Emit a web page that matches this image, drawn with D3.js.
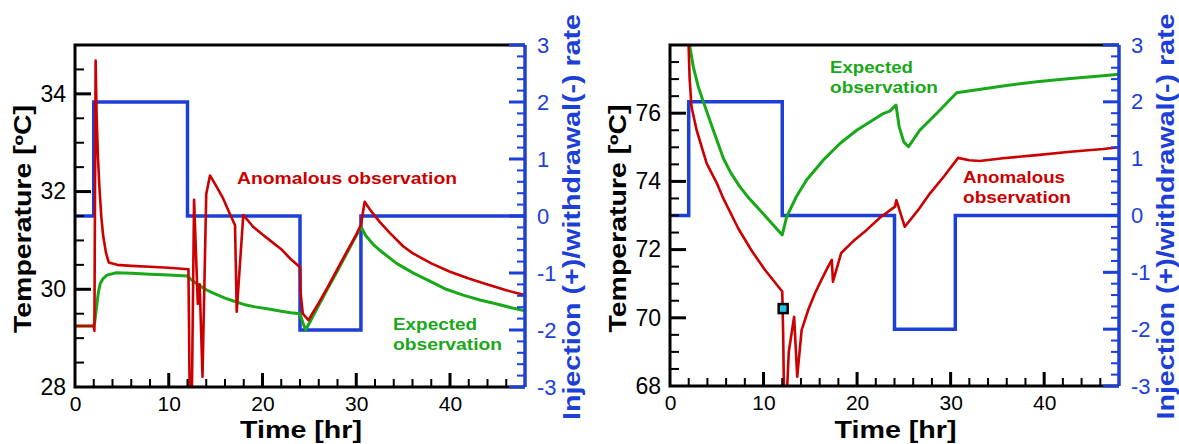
<!DOCTYPE html>
<html>
<head>
<meta charset="utf-8">
<script src="https://cdn.jsdelivr.net/npm/d3@7"></script>
<style>
  body { margin: 0; background: #fff; }
  svg { display: block; }
  text { font-family: "Liberation Sans", Arial, Helvetica, sans-serif; }
</style>
</head>
<body>
<div id="chart"></div>
<script>
// ---- data ----
const timeTicks = [0, 10, 20, 30, 40];
const rateTicks = [-3, -2, -1, 0, 1, 2, 3];
const leftTempTicks = [28, 30, 32, 34];
const rightTempTicks = [68, 70, 72, 74, 76];

// injection (+) / withdrawal (-) rate, step after each time
const rateSteps = [[0, 0], [2, 2], [12, 0], [24, -2], [30.5, 0], [48, 0]];

// left panel: [time hr, temperature C]
const leftExpected = [
  [0, 29.25], [2.0, 29.25], [2.1, 29.32], [2.3, 29.64], [2.5, 29.95], [2.7, 30.12], [3.0, 30.22],
  [3.4, 30.29], [4.4, 30.34], [6, 30.33], [8, 30.31], [10, 30.29], [12, 30.27], [12.5, 30.18],
  [13.15, 30.09], [14, 29.99], [14.75, 29.92], [16, 29.82], [17.07, 29.75], [18, 29.69],
  [19.2, 29.64], [20.5, 29.6], [22, 29.55], [23, 29.52], [24, 29.5], [24.3, 29.32], [24.6, 29.17],
  [25, 29.31], [26, 29.67], [27, 30.03], [28, 30.38], [29, 30.74], [30, 31.1], [30.5, 31.28],
  [31, 31.1], [31.8, 30.92], [32.5, 30.8], [34.3, 30.53], [36.1, 30.33], [37.9, 30.16],
  [39.6, 30.0], [41.4, 29.88], [43.2, 29.78], [45, 29.7], [46.8, 29.61], [48, 29.56]
];
const leftAnomalous = [
  [0, 29.25], [2.0, 29.25], [2.07, 29.15], [2.2, 34.68], [2.3, 33.6], [2.45, 32.7], [2.6, 32.1],
  [2.8, 31.5], [3.0, 31.1], [3.3, 30.75], [3.6, 30.55], [4.5, 30.5], [6, 30.48], [8, 30.46],
  [10, 30.44], [12.1, 30.41], [12.25, 27.5], [12.45, 27.5], [12.7, 31.83], [13.1, 29.7],
  [13.3, 30.1], [13.6, 28.21], [14.0, 31.95], [14.4, 32.33], [15.1, 32.1], [15.8, 31.86],
  [16.5, 31.55], [17.07, 31.31], [17.25, 29.54], [17.95, 31.52], [19, 31.28], [20, 31.12],
  [21, 30.97], [22, 30.82], [23, 30.62], [24, 30.45], [24.08, 29.9], [24.3, 29.5], [24.9, 29.37],
  [26, 29.72], [27, 30.06], [28, 30.42], [29, 30.77], [30, 31.12], [30.5, 31.32], [30.9, 31.79],
  [31.5, 31.62], [32.5, 31.38], [33.6, 31.15], [35, 30.88], [36, 30.74], [38, 30.53],
  [40, 30.36], [42, 30.22], [44, 30.1], [46, 29.98], [48, 29.88]
];

// right panel
const rightExpected = [
  [2.0, 78.3], [2.1, 78.0], [2.49, 77.36], [3.0, 76.8], [3.56, 76.34], [4.63, 75.5], [5.7, 74.68],
  [6.5, 74.25], [7.48, 73.84], [8.4, 73.52], [9.27, 73.26], [10.2, 72.98], [11.04, 72.72],
  [12.0, 72.43], [12.47, 72.96], [13.5, 73.55], [14.6, 74.04], [16.4, 74.63], [18.2, 75.12],
  [19.96, 75.5], [21.7, 75.8], [22.8, 75.99], [23.5, 76.06], [24.16, 76.24], [24.5, 75.6],
  [25, 75.15], [25.5, 75.02], [26.7, 75.5], [28.5, 75.99], [30.65, 76.6], [32.1, 76.66],
  [35.6, 76.8], [39.2, 76.92], [42.8, 77.02], [46.3, 77.1], [48, 77.14]
];
const rightAnomalous = [
  [1.95, 78.3], [2.1, 77.0], [2.3, 76.19], [2.85, 75.5], [3.92, 74.53], [5.0, 73.95], [5.7, 73.5],
  [7.3, 72.62], [8.7, 71.98], [10.16, 71.4], [12.0, 70.77], [12.1, 69.5], [12.2, 67.5],
  [12.45, 67.5], [12.7, 69.0], [13.27, 70.03], [13.6, 68.27], [14.07, 69.64], [14.8, 70.25],
  [15.5, 70.72], [16.2, 71.12], [16.9, 71.5], [17.3, 71.7], [17.42, 71.06], [18.3, 71.9],
  [19.6, 72.25], [21.0, 72.57], [22.5, 72.95], [24.05, 73.26], [24.2, 73.45], [25.1, 72.67],
  [26.5, 73.15], [27.8, 73.65], [29.3, 74.15], [30.8, 74.69], [32, 74.62], [33.1, 74.6],
  [35.6, 74.68], [39.2, 74.77], [42.8, 74.87], [46.3, 74.95], [48, 75.0]
];
const rightMarker = [[12.1, 70.27]];

// ---- drawing ----
const blue = "#1c3fd8", red = "#cc0000", green = "#19a819";

const svg = d3.select("#chart").append("svg")
  .attr("width", 1179).attr("height", 444);

const panels = [
  { left: 75, right: 525, top: 45, bottom: 387, tempDomain: [28, 35], tempTicks: leftTempTicks,
    expected: leftExpected, anomalous: leftAnomalous, marker: [],
    notes: [
      { text: "Anomalous observation", x: 237, y: 184, len: 220, color: red },
      { text: "Expected", x: 393, y: 330, len: 84, color: green },
      { text: "observation", x: 393, y: 350, len: 109, color: green }
    ] },
  { left: 670, right: 1119, top: 45, bottom: 386, tempDomain: [68, 78], tempTicks: rightTempTicks,
    expected: rightExpected, anomalous: rightAnomalous, marker: rightMarker,
    notes: [
      { text: "Expected", x: 830, y: 73, len: 83, color: green },
      { text: "observation", x: 830, y: 93, len: 108, color: green },
      { text: "Anomalous", x: 963, y: 183, len: 102, color: red },
      { text: "observation", x: 963, y: 203, len: 108, color: red }
    ] }
];

function labelsOnly(a, color, fontSize) {
  a.select(".domain").remove();
  a.selectAll(".tick line").remove();
  a.selectAll(".tick text").attr("fill", color).attr("font-size", fontSize);
}

// tick marks as small filled rects: {x, y, w, h, c}
const tickRects = [];

panels.forEach((p, i) => {
  const x = d3.scaleLinear().domain([0, 48]).range([p.left, p.right]);
  const yT = d3.scaleLinear().domain(p.tempDomain).range([p.bottom, p.top]);
  const yR = d3.scaleLinear().domain([-3, 3]).range([p.bottom, p.top]);
  const g = svg.append("g");

  const clipId = "clip" + i;
  g.append("defs").append("clipPath").attr("id", clipId).append("rect")
    .attr("x", p.left).attr("y", p.top)
    .attr("width", p.right - p.left).attr("height", p.bottom - p.top);

  const plot = g.append("g").attr("clip-path", `url(#${clipId})`);

  const rateLine = d3.line().curve(d3.curveStepAfter).x(d => x(d[0])).y(d => yR(d[1]));
  const tempLine = d3.line().x(d => x(d[0])).y(d => yT(d[1]));

  plot.append("path").datum(rateSteps).attr("d", rateLine)
    .attr("fill", "none").attr("stroke", blue).attr("stroke-width", 3.5);
  plot.append("path").datum(p.expected).attr("d", tempLine)
    .attr("fill", "none").attr("stroke", green).attr("stroke-width", 3).attr("stroke-linejoin", "round");
  plot.append("path").datum(p.anomalous).attr("d", tempLine)
    .attr("fill", "none").attr("stroke", red).attr("stroke-width", 2.6).attr("stroke-linejoin", "round");

  g.selectAll("rect.marker").data(p.marker).enter().append("rect").attr("class", "marker")
    .attr("x", d => x(d[0]) - 4.5).attr("y", d => yT(d[1]) - 4.5)
    .attr("width", 9).attr("height", 9)
    .attr("fill", "#1fc3e6").attr("stroke", "#000").attr("stroke-width", 2.5);

  // frame
  g.append("path")
    .attr("d", `M${x(48)},${yT.range()[1]}H${x(0)}V${yT.range()[0]}H${x(48)}`)
    .attr("fill", "none").attr("stroke", "#000").attr("stroke-width", 3);
  g.append("line")
    .attr("x1", x(48)).attr("x2", x(48)).attr("y1", yR(3)).attr("y2", yR(-3))
    .attr("stroke", blue).attr("stroke-width", 3.5);

  // inward tick marks
  const t0 = p.tempDomain[0], t1 = p.tempDomain[1];
  const minorT = d3.range(2, 48, 2).filter(v => v % 10 !== 0);
  const minorY = d3.range(t0 + 0.5, t1, 0.5).filter(v => !p.tempTicks.includes(v));
  const minorR = d3.range(-2.8, 3, 0.2).map(v => Math.round(v * 10) / 10).filter(v => !Number.isInteger(v));
  minorT.forEach(v => tickRects.push({ x: x(v) - 1, y: p.bottom - 8, w: 2, h: 8, c: "#000" }));
  timeTicks.filter(v => v > 0).forEach(v => tickRects.push({ x: x(v) - 1.5, y: p.bottom - 14, w: 3, h: 14, c: "#000" }));
  minorY.forEach(v => tickRects.push({ x: p.left, y: yT(v) - 1, w: 9, h: 2, c: "#000" }));
  p.tempTicks.filter(v => v > t0).forEach(v => tickRects.push({ x: p.left, y: yT(v) - 1.5, w: 16, h: 3, c: "#000" }));
  minorR.forEach(v => tickRects.push({ x: p.right - 8, y: yR(v) - 1, w: 8, h: 2, c: blue }));
  rateTicks.forEach(v => tickRects.push({ x: p.right - 16, y: yR(v) - 1.5, w: 16, h: 3, c: blue }));

  // tick labels through d3 axes
  g.append("g").attr("transform", `translate(0,${p.bottom})`)
    .call(d3.axisBottom(x).tickValues(timeTicks).tickFormat(d => String(d)).tickSize(0).tickPadding(9))
    .call(a => labelsOnly(a, "#000", 21));
  g.append("g").attr("transform", `translate(${p.left},0)`)
    .call(d3.axisLeft(yT).tickValues(p.tempTicks).tickFormat(d => String(d)).tickSize(0).tickPadding(9))
    .call(a => labelsOnly(a, "#000", 23));
  g.append("g").attr("transform", `translate(${p.right},0)`)
    .call(d3.axisRight(yR).tickValues(rateTicks).tickFormat(d => String(d)).tickSize(0).tickPadding(12))
    .call(a => labelsOnly(a, blue, 22));

  // axis titles
  const midY = (p.top + p.bottom) / 2;
  g.append("text")
    .attr("transform", `translate(${p.left - 44},${midY + 3}) rotate(-90)`)
    .attr("text-anchor", "middle").attr("font-weight", "bold").attr("font-size", 23)
    .attr("textLength", 228).attr("lengthAdjust", "spacingAndGlyphs")
    .text("Temperature [ºC]");
  g.append("text")
    .attr("x", (p.left + p.right) / 2 + 1).attr("y", 438)
    .attr("text-anchor", "middle").attr("font-weight", "bold").attr("font-size", 24)
    .attr("textLength", 122).attr("lengthAdjust", "spacingAndGlyphs")
    .text("Time [hr]");
  g.append("text")
    .attr("transform", `translate(${p.right + 55},${midY + 1}) rotate(-90)`)
    .attr("text-anchor", "middle").attr("font-weight", "bold").attr("font-size", 24)
    .attr("textLength", 406).attr("lengthAdjust", "spacingAndGlyphs")
    .attr("fill", blue)
    .text("Injection (+)/withdrawal(-) rate");

  // curve annotations
  g.selectAll("text.note").data(p.notes).enter().append("text").attr("class", "note")
    .attr("x", d => d.x).attr("y", d => d.y)
    .attr("font-size", 17).attr("font-weight", "bold")
    .attr("textLength", d => d.len).attr("lengthAdjust", "spacingAndGlyphs")
    .attr("fill", d => d.color)
    .text(d => d.text);
});

svg.append("g").attr("class", "ticks")
  .selectAll("rect").data(tickRects).enter().append("rect")
  .attr("x", d => d.x).attr("y", d => d.y)
  .attr("width", d => d.w).attr("height", d => d.h)
  .attr("fill", d => d.c);
</script>
</body>
</html>
